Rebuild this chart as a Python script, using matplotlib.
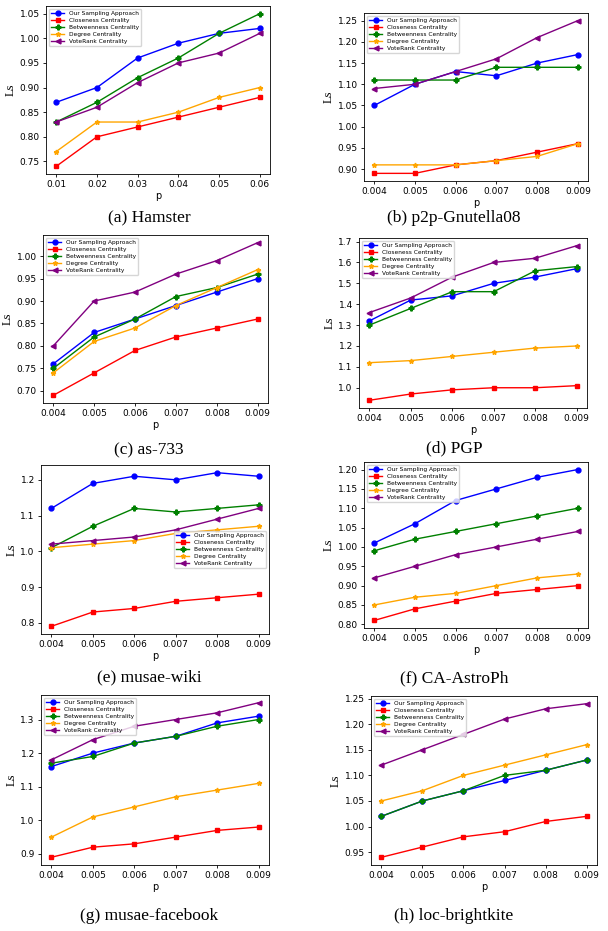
import numpy as np
import matplotlib
matplotlib.use("Agg")
import matplotlib.pyplot as plt

labels = ["Our Sampling Approach", "Closeness Centrality", "Betweenness Centrality",
          "Degree Centrality", "VoteRank Centrality"]
colors = ["blue", "red", "green", "orange", "purple"]
markers = ["o", "s", "P", "*", "<"]

p_a = [0.01, 0.02, 0.03, 0.04, 0.05, 0.06]
p_b = [0.004, 0.005, 0.006, 0.007, 0.008, 0.009]

# (a) Hamster
ham_ours = [0.87, 0.90, 0.96, 0.99, 1.01, 1.02]
ham_clo = [0.74, 0.80, 0.82, 0.84, 0.86, 0.88]
ham_bet = [0.83, 0.87, 0.92, 0.96, 1.01, 1.05]
ham_deg = [0.77, 0.83, 0.83, 0.85, 0.88, 0.90]
ham_vote = [0.83, 0.86, 0.91, 0.95, 0.97, 1.01]

# (b) p2p-Gnutella08
gnu_ours = [1.05, 1.10, 1.13, 1.12, 1.15, 1.17]
gnu_clo = [0.89, 0.89, 0.91, 0.92, 0.94, 0.96]
gnu_bet = [1.11, 1.11, 1.11, 1.14, 1.14, 1.14]
gnu_deg = [0.91, 0.91, 0.91, 0.92, 0.93, 0.96]
gnu_vote = [1.09, 1.10, 1.13, 1.16, 1.21, 1.25]

# (c) as-733
as_ours = [0.76, 0.83, 0.86, 0.89, 0.92, 0.95]
as_clo = [0.69, 0.74, 0.79, 0.82, 0.84, 0.86]
as_bet = [0.75, 0.82, 0.86, 0.91, 0.93, 0.96]
as_deg = [0.74, 0.81, 0.84, 0.89, 0.93, 0.97]
as_vote = [0.80, 0.90, 0.92, 0.96, 0.99, 1.03]

# (d) PGP
pgp_ours = [1.32, 1.42, 1.44, 1.50, 1.53, 1.57]
pgp_clo = [0.94, 0.97, 0.99, 1.00, 1.00, 1.01]
pgp_bet = [1.30, 1.38, 1.46, 1.46, 1.56, 1.58]
pgp_deg = [1.12, 1.13, 1.15, 1.17, 1.19, 1.20]
pgp_vote = [1.36, 1.43, 1.53, 1.60, 1.62, 1.68]

# (e) musae-wiki
wiki_ours = [1.12, 1.19, 1.21, 1.20, 1.22, 1.21]
wiki_clo = [0.79, 0.83, 0.84, 0.86, 0.87, 0.88]
wiki_bet = [1.01, 1.07, 1.12, 1.11, 1.12, 1.13]
wiki_deg = [1.01, 1.02, 1.03, 1.05, 1.06, 1.07]
wiki_vote = [1.02, 1.03, 1.04, 1.06, 1.09, 1.12]

# (f) CA-AstroPh
astro_ours = [1.01, 1.06, 1.12, 1.15, 1.18, 1.20]
astro_clo = [0.81, 0.84, 0.86, 0.88, 0.89, 0.90]
astro_bet = [0.99, 1.02, 1.04, 1.06, 1.08, 1.10]
astro_deg = [0.85, 0.87, 0.88, 0.90, 0.92, 0.93]
astro_vote = [0.92, 0.95, 0.98, 1.00, 1.02, 1.04]

# (g) musae-facebook
fb_ours = [1.16, 1.20, 1.23, 1.25, 1.29, 1.31]
fb_clo = [0.89, 0.92, 0.93, 0.95, 0.97, 0.98]
fb_bet = [1.17, 1.19, 1.23, 1.25, 1.28, 1.30]
fb_deg = [0.95, 1.01, 1.04, 1.07, 1.09, 1.11]
fb_vote = [1.18, 1.24, 1.28, 1.30, 1.32, 1.35]

# (h) loc-brightkite
bk_ours = [1.02, 1.05, 1.07, 1.09, 1.11, 1.13]
bk_clo = [0.94, 0.96, 0.98, 0.99, 1.01, 1.02]
bk_bet = [1.02, 1.05, 1.07, 1.10, 1.11, 1.13]
bk_deg = [1.05, 1.07, 1.10, 1.12, 1.14, 1.16]
bk_vote = [1.12, 1.15, 1.18, 1.21, 1.23, 1.24]

panels = [
    ("(a) Hamster", p_a, [ham_ours, ham_clo, ham_bet, ham_deg, ham_vote], "upper left"),
    ("(b) p2p-Gnutella08", p_b, [gnu_ours, gnu_clo, gnu_bet, gnu_deg, gnu_vote], "upper left"),
    ("(c) as-733", p_b, [as_ours, as_clo, as_bet, as_deg, as_vote], "upper left"),
    ("(d) PGP", p_b, [pgp_ours, pgp_clo, pgp_bet, pgp_deg, pgp_vote], "upper left"),
    ("(e) musae-wiki", p_b, [wiki_ours, wiki_clo, wiki_bet, wiki_deg, wiki_vote], "center right"),
    ("(f) CA-AstroPh", p_b, [astro_ours, astro_clo, astro_bet, astro_deg, astro_vote], "upper left"),
    ("(g) musae-facebook", p_b, [fb_ours, fb_clo, fb_bet, fb_deg, fb_vote], "upper left"),
    ("(h) loc-brightkite", p_b, [bk_ours, bk_clo, bk_bet, bk_deg, bk_vote], "upper left"),
]

# axes boxes in pixels: left, top, right, bottom ; caption x, y
boxes = [
    (46, 6, 270, 174, 149, 218),
    (364, 13, 588, 181, 454, 218),
    (43, 235, 268, 403, 149, 450),
    (359, 238, 587, 408, 454, 448),
    (41, 465, 269, 634, 149, 677),
    (364, 462, 588, 628, 454, 678),
    (41, 695, 269, 865, 149, 916),
    (371, 696, 597, 865, 454, 916),
]

W, H = 608, 931
fig = plt.figure(figsize=(W / 100, H / 100), dpi=100)

for (title, p, series, loc), (l, t, r, b, cx, cy) in zip(panels, boxes):
    ax = fig.add_axes([l / W, 1 - b / H, (r - l) / W, (b - t) / H])
    for y, lab, c, m in zip(series, labels, colors, markers):
        ax.plot(p, y, color=c, marker=m, markersize=3.5, linewidth=1, label=lab)
    ax.set_xticks(p)
    ax.tick_params(labelsize=6.5, length=2.5, width=0.6, pad=2)
    ax.set_xlabel("p", fontsize=7, labelpad=1)
    ax.set_ylabel("Ls", fontsize=9, family="Liberation Serif", labelpad=2)
    for s in ax.spines.values():
        s.set_linewidth(0.6)
    ax.legend(loc=loc, fontsize=4.2, handlelength=2.2, borderpad=0.4,
              labelspacing=0.3, framealpha=0.8)
    fig.text(cx / W, 1 - cy / H, title, ha="center", va="center",
             fontsize=12.5, family="Liberation Serif")

fig.savefig("out.png", dpi=100)
